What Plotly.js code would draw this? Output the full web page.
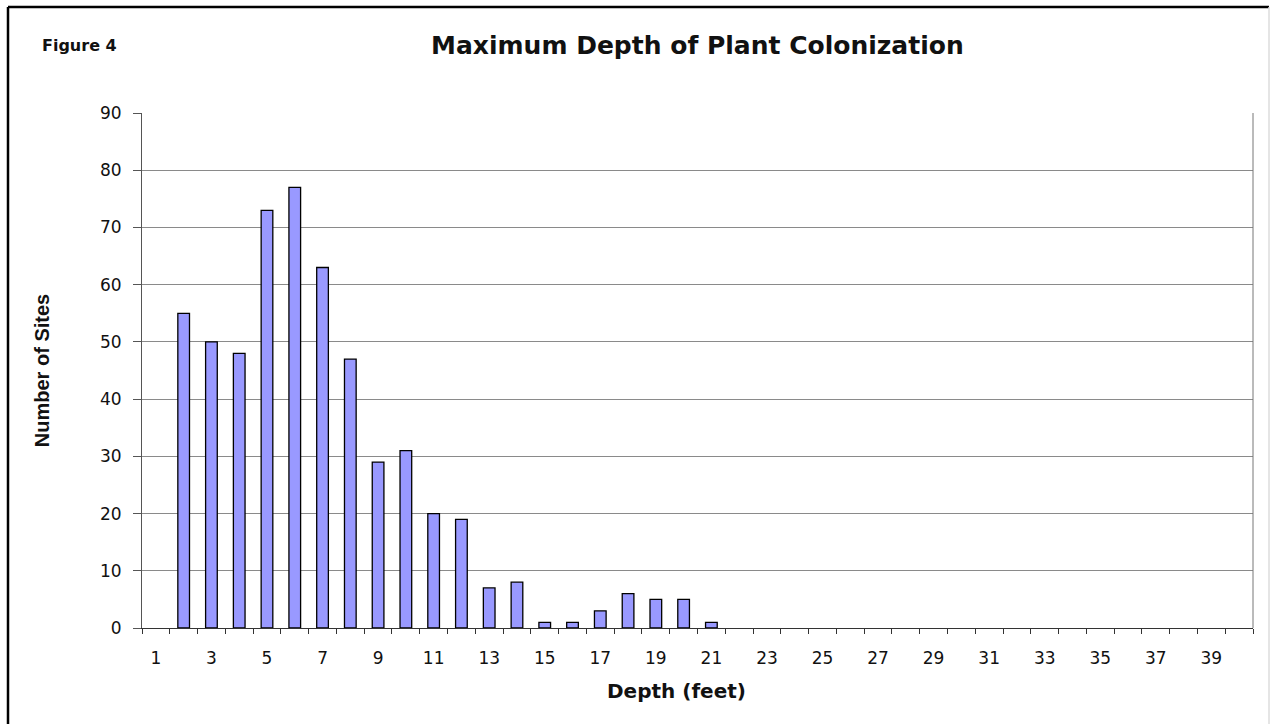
<!DOCTYPE html>
<html>
<head>
<meta charset="utf-8">
<script src="https://cdn.plot.ly/plotly-3.0.1.min.js"></script>
<style>
  html, body { margin: 0; padding: 0; background: #fff; }
  #chart { width: 1275px; height: 724px; }
</style>
</head>
<body>
<div id="chart"></div>
<script>
// Data
const depthFeet = [1,2,3,4,5,6,7,8,9,10,11,12,13,14,15,16,17,18,19,20,
                   21,22,23,24,25,26,27,28,29,30,31,32,33,34,35,36,37,38,39,40];
const numberOfSites = [0,55,50,48,73,77,63,47,29,31,20,19,7,8,1,1,3,6,5,5,
                       1,0,0,0,0,0,0,0,0,0,0,0,0,0,0,0,0,0,0,0];
const xTickLabels = ["1","3","5","7","9","11","13","15","17","19","21",
                     "23","25","27","29","31","33","35","37","39"];
const xTickValues = [1,3,5,7,9,11,13,15,17,19,21,23,25,27,29,31,33,35,37,39];
const yTickValues = [0,10,20,30,40,50,60,70,80,90];
const boundaryTicks = [0.5,1.5,2.5,3.5,4.5,5.5,6.5,7.5,8.5,9.5,10.5,11.5,12.5,13.5,14.5,
                       15.5,16.5,17.5,18.5,19.5,20.5,21.5,22.5,23.5,24.5,25.5,26.5,27.5,
                       28.5,29.5,30.5,31.5,32.5,33.5,34.5,35.5,36.5,37.5,38.5,39.5,40.5];

const tickFont = {family: "DejaVu Sans, Arial, sans-serif", size: 17, color: "#111"};

const traces = [{
  type: "bar",
  x: depthFeet,
  y: numberOfSites,
  width: 0.42,
  marker: {
    color: "#9999ff",
    line: {color: "#000000", width: numberOfSites.map(v => v > 0 ? 1.3 : 0)}
  },
  hoverinfo: "x+y",
  showlegend: false
}, {
  // invisible helper trace for the boundary tick axis
  type: "scatter",
  x: [0.5, 40.5],
  y: [0, 0],
  xaxis: "x2",
  mode: "none",
  hoverinfo: "skip",
  showlegend: false
}];

const layout = {
  width: 1275,
  height: 724,
  paper_bgcolor: "#ffffff",
  plot_bgcolor: "#ffffff",
  margin: {l: 142, r: 22, t: 113, b: 96},
  bargap: 0.58,
  title: {
    text: "<b>Maximum Depth of Plant Colonization</b>",
    font: {family: "DejaVu Sans, Arial, sans-serif", size: 25, color: "#111"},
    x: 0.547, xanchor: "center", y: 0.937, yanchor: "middle"
  },
  xaxis: {
    range: [0.5, 40.5],
    tickmode: "array",
    tickvals: xTickValues,
    ticktext: xTickLabels,
    ticks: "",
    tickfont: tickFont,
    ticklabelstandoff: 14,
    showgrid: false,
    zeroline: false,
    showline: true,
    linecolor: "#333",
    linewidth: 1.3,
    fixedrange: true
  },
  xaxis2: {
    overlaying: "x",
    range: [0.5, 40.5],
    tickmode: "array",
    tickvals: boundaryTicks,
    showticklabels: false,
    ticks: "outside",
    ticklen: 5,
    tickcolor: "#333",
    tickwidth: 1,
    showgrid: false,
    zeroline: false,
    showline: false,
    anchor: "y",
    side: "bottom"
  },
  yaxis: {
    range: [0, 90],
    tickmode: "array",
    tickvals: yTickValues,
    ticks: "outside",
    ticklen: 8,
    tickcolor: "#555",
    tickfont: tickFont,
    ticklabelstandoff: 8,
    showgrid: true,
    gridcolor: "#8a8a8a",
    gridwidth: 1,
    zeroline: false,
    showline: true,
    linecolor: "#555",
    linewidth: 1,
    mirror: false,
    title: {
      text: "<b>Number of Sites</b>",
      font: {family: "Liberation Sans Narrow, Liberation Sans, Arial, sans-serif", size: 20, color: "#111"},
      standoff: 44
    },
    fixedrange: true
  },
  annotations: [{
    text: "<b>Figure 4</b>",
    xref: "paper", yref: "paper",
    x: (40 - 142) / 1111, y: (628 - 45) / 515,
    xanchor: "left", yanchor: "middle",
    showarrow: false,
    font: {family: "DejaVu Sans, Arial, sans-serif", size: 16, color: "#111"}
  }, {
    text: "<b>Depth (feet)</b>",
    xref: "paper", yref: "paper",
    x: (676 - 142) / 1111, y: (628 - 691) / 515,
    xanchor: "center", yanchor: "middle",
    showarrow: false,
    font: {family: "DejaVu Sans, Arial, sans-serif", size: 20, color: "#111"}
  }],
  shapes: [{
    // right border of plot area
    type: "line", xref: "paper", yref: "paper",
    x0: 1, x1: 1, y0: 0, y1: 1,
    line: {color: "#777", width: 1}
  }, {
    // figure frame: left
    type: "line", xref: "paper", yref: "paper",
    x0: (8 - 142) / 1111, x1: (8 - 142) / 1111,
    y0: (628 - 7) / 515, y1: (628 - 724) / 515,
    line: {color: "#000", width: 2.5}
  }, {
    // figure frame: top
    type: "line", xref: "paper", yref: "paper",
    x0: (8 - 142) / 1111, x1: (1269 - 142) / 1111,
    y0: (628 - 7) / 515, y1: (628 - 7) / 515,
    line: {color: "#000", width: 2.5}
  }, {
    // figure frame: right (faint)
    type: "line", xref: "paper", yref: "paper",
    x0: (1269 - 142) / 1111, x1: (1269 - 142) / 1111,
    y0: (628 - 7) / 515, y1: (628 - 724) / 515,
    line: {color: "#ddd", width: 1.5}
  }]
};

Plotly.newPlot("chart", traces, layout, {displayModeBar: false, staticPlot: true});
</script>
</body>
</html>
